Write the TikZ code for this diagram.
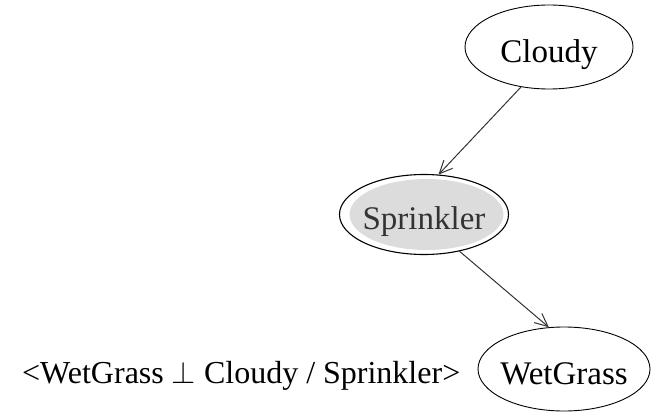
\documentclass[tikz,border=0pt]{standalone}
\usepackage{fontspec}
\setmainfont{Liberation Serif}
\usetikzlibrary{shapes.geometric,arrows.meta,backgrounds}
\definecolor{edgecol}{HTML}{333333}
\definecolor{sprgray}{HTML}{DCDCDC}
\tikzset{
  varnode/.style={ellipse, draw=black, line width=0.9pt, inner sep=0pt,
    font=\fontsize{33}{38}\selectfont},
  edge/.style={draw=edgecol, line width=1pt, -{Straight Barb[length=13pt,width=12pt,line width=1pt]}}
}
\newcommand{\nodetext}[2]{\makebox[0pt]{\raisebox{-#1}[0pt][0pt]{#2}}}
\begin{document}
\begin{tikzpicture}[x=1pt,y=-1pt]
\useasboundingbox (0,0) rectangle (656,412);
\node[varnode, minimum width=168pt, minimum height=84pt] (cloudy) at (549,47) {\nodetext{16pt}{Cloudy}};
\node[varnode, line width=1.1pt, minimum width=169pt, minimum height=80pt] (spr) at (424,214.5) {\nodetext{14.5pt}{\color{black!80}Sprinkler}};
\node[varnode, minimum width=172pt, minimum height=84pt] (wet) at (564,369) {\nodetext{15.5pt}{WetGrass}};
\node[anchor=base west, inner sep=0pt, font=\fontsize{32}{37}\selectfont] (lbl) at (22,383) {<WetGrass \scalebox{1.25}{$\perp$} Cloudy / Sprinkler>};
\begin{scope}[on background layer]
  \fill[sprgray] ([xshift=2.5pt]spr.center) ellipse (77pt and 35.5pt);
\end{scope}
\draw[edge] (cloudy.235.4) -- (spr.70.1);
\draw[edge] (spr.314) -- (wet.110);
\end{tikzpicture}
\end{document}
